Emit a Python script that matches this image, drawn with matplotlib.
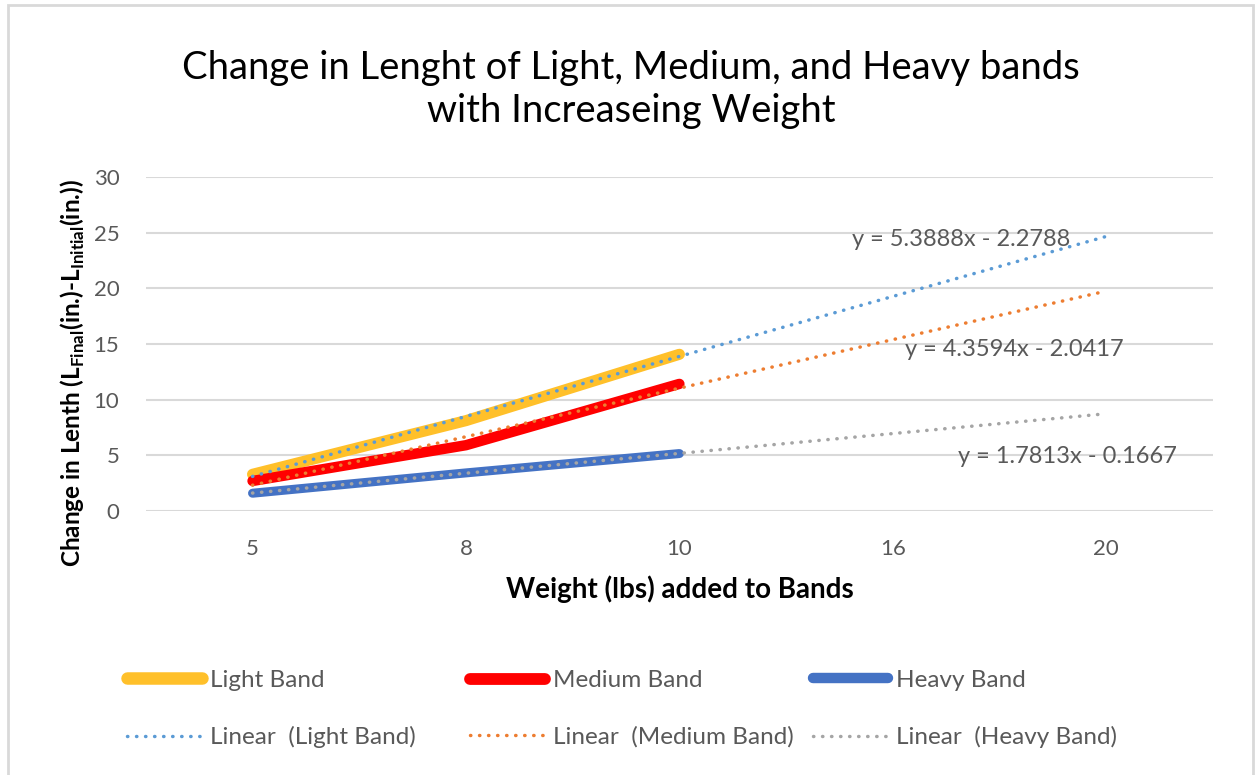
import matplotlib
matplotlib.use('Agg')
import matplotlib.pyplot as plt
from matplotlib.lines import Line2D
from matplotlib.patches import Rectangle
import numpy as np

plt.rcParams['font.family'] = ['Lato', 'DejaVu Sans']
plt.rcParams['mathtext.fontset'] = 'custom'
plt.rcParams['mathtext.rm'] = 'Lato'
plt.rcParams['mathtext.bf'] = 'Lato:bold'

# data
weights = ['5', '8', '10', '16', '20']
light = [3.3, 8.1188, 14.0776]
medium = [2.7, 5.9125, 11.4188]
heavy = [1.6, 3.4251, 5.1626]

series_names = ['Light Band', 'Medium Band', 'Heavy Band']
line_colors = ['#FFC02A', '#FF0000', '#4472C4']
trend_colors = ['#5B9BD5', '#ED7D31', '#A5A5A5']
line_widths = [8, 7.5, 6.5]
eq_pos = [(4.32, 24.4), (4.57, 14.55), (4.82, 4.94)]
dots = (0, (0.1, 2.5))

fig = plt.figure(figsize=(12.57, 7.75), dpi=100)
ax = fig.add_axes([0.116, 0.3406, 0.849, 0.431])

xcat = np.arange(1, len(weights) + 1)
for i, vals in enumerate([light, medium, heavy]):
    xs = xcat[:len(vals)]
    ax.plot(xs, vals, color=line_colors[i], lw=line_widths[i],
            solid_capstyle='round', solid_joinstyle='round', zorder=3)
    # linear trendline, forecast forward 2 periods like excel
    m, b = np.polyfit(xs, vals, 1)
    tx = np.array([1, 5])
    ax.plot(tx, m * tx + b, color=trend_colors[i], lw=2.5,
            linestyle=dots, dash_capstyle='round', zorder=4)
    sign = '-' if b < 0 else '+'
    ax.text(eq_pos[i][0], eq_pos[i][1], 'y = %.4fx %s %.4f' % (m, sign, abs(b)),
            fontsize=17, color='#595959', ha='center', va='center', zorder=5)

ax.set_xlim(0.5, 5.5)
ax.set_ylim(0, 30)
ax.set_yticks(range(0, 31, 5))
ax.set_xticks(xcat)
ax.set_xticklabels(weights)
ax.tick_params(axis='both', length=0, labelsize=16, labelcolor='#595959')
ax.tick_params(axis='x', pad=20)
ax.tick_params(axis='y', pad=19)
ax.grid(axis='y', color='#D9D9D9', lw=1.5)
ax.set_axisbelow(True)
for s in ax.spines.values():
    s.set_visible(False)

ax.set_xlabel('Weight (lbs) added to Bands', fontsize=20, fontweight='bold', labelpad=12)
ax.set_ylabel(r'Change in Lenth (L$_{\mathbf{Final}}$(in.)-L$_{\mathbf{Initial}}$(in.))',
              fontsize=17.5, fontweight='bold')
ax.yaxis.set_label_coords(-0.055, 0.413)

fig.text(0.502, 0.885, 'Change in Lenght of Light, Medium, and Heavy bands\nwith Increaseing Weight',
         fontsize=27.5, ha='center', va='center', linespacing=1.25)

# legend: three equal-width columns like excel
col_x = [127, 470, 813]
for i in range(3):
    hs = [Line2D([], [], color=line_colors[i], lw=line_widths[i] + 1, solid_capstyle='round'),
          Line2D([], [], color=trend_colors[i], lw=2.5, linestyle=dots, dash_capstyle='round')]
    labs = [series_names[i], 'Linear  (%s)' % series_names[i]]
    fig.legend(hs, labs, loc='center left', bbox_to_anchor=(col_x[i] / 1257, 1 - 709 / 775),
               frameon=False, fontsize=17.5, labelcolor='#595959', handlelength=3.1,
               handletextpad=0.3, labelspacing=1.45, borderpad=0, borderaxespad=0)

fig.patches.append(Rectangle((8 / 1257, -0.01), 1245 / 1257, 1 - 5 / 775 + 0.01,
                             transform=fig.transFigure, fill=False,
                             edgecolor='#D9D9D9', lw=2))

fig.savefig('out.png', dpi=100)
